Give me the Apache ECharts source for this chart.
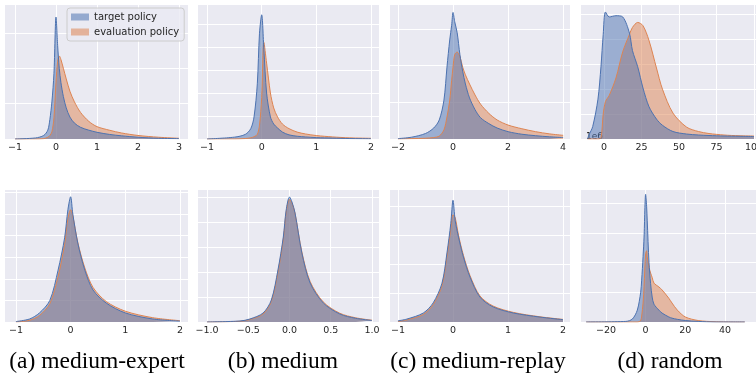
<!DOCTYPE html>
<html>
<head>
<meta charset="utf-8">
<script src="https://cdn.jsdelivr.net/npm/echarts@6/dist/echarts.min.js"></script>
<style>
html, body { margin: 0; padding: 0; background: #fff; overflow: hidden; }
#main { width: 770px; height: 378px; }
</style>
</head>
<body>
<div id="main"></div>
<script>
// densities, y in units of the (unlabelled) grid lines
const xsA = [-1, -0.5, -0.3, -0.2, -0.15, -0.1, -0.05, 0, 0.04, 0.08, 0.12, 0.18, 0.25, 0.34, 0.45, 0.6, 0.8, 1.0, 1.3, 1.6, 2.0, 2.5, 3.0];
const targetA = [0.0, 0.03, 0.1, 0.25, 0.55, 1.05, 1.85, 3.45, 2.65, 2.0, 1.6, 1.2, 0.88, 0.62, 0.45, 0.33, 0.25, 0.19, 0.13, 0.09, 0.05, 0.02, 0.01];
const evalA = [0.0, 0.0, 0.01, 0.05, 0.1, 0.2, 0.6, 1.6, 2.2, 2.35, 2.25, 2.0, 1.7, 1.35, 1.05, 0.75, 0.5, 0.35, 0.25, 0.17, 0.1, 0.05, 0.02];

const xsB = [-1, -0.5, -0.3, -0.2, -0.14, -0.08, -0.04, 0, 0.04, 0.09, 0.16, 0.22, 0.29, 0.38, 0.5, 0.65, 0.8, 1.0, 1.3, 1.6, 2.0];
const targetB = [0, 0.08, 0.2, 0.45, 0.96, 2.4, 4.6, 5.4, 3.9, 2.0, 0.96, 0.65, 0.48, 0.3, 0.18, 0.12, 0.09, 0.06, 0.04, 0.02, 0.01];
const evalB = [0, 0, 0.02, 0.05, 0.1, 0.2, 0.6, 1.8, 4.2, 3.3, 2.0, 1.35, 0.96, 0.65, 0.45, 0.3, 0.22, 0.15, 0.09, 0.05, 0.03];

const xsC = [-2, -1.5, -1.0, -0.7, -0.5, -0.33, -0.22, -0.12, -0.05, 0, 0.06, 0.15, 0.25, 0.35, 0.45, 0.6, 0.8, 1.0, 1.3, 1.6, 2.0, 2.5, 3.0, 3.5, 4.0];
const targetC = [0.01, 0.05, 0.15, 0.3, 0.52, 1.06, 1.96, 2.7, 3.1, 3.45, 3.2, 2.9, 2.3, 1.85, 1.5, 1.12, 0.8, 0.58, 0.42, 0.3, 0.2, 0.13, 0.09, 0.06, 0.04];
const evalC = [0, 0.01, 0.02, 0.04, 0.08, 0.25, 0.6, 1.06, 1.6, 1.96, 2.3, 2.37, 2.25, 1.96, 1.75, 1.5, 1.2, 0.95, 0.7, 0.52, 0.38, 0.28, 0.2, 0.14, 0.1];

const xsD = [-11, -10, -7.5, -4, -2, -0.5, 1, 3.5, 8, 12.5, 17, 19, 22.5, 26, 30, 35, 39, 46, 55, 63, 70, 80, 90, 100];
const targetD = [0, 0.16, 0.5, 1.6, 2.9, 4.2, 5.1, 4.9, 4.95, 4.9, 4.25, 3.55, 2.9, 2.05, 1.3, 0.8, 0.55, 0.3, 0.2, 0.16, 0.14, 0.12, 0.11, 0.1];
const evalD = [0, 0, 0, 0, 0.05, 1.0, 1.5, 1.75, 2.45, 3.5, 4.2, 4.48, 4.68, 4.55, 3.96, 2.85, 2.0, 1.04, 0.48, 0.3, 0.22, 0.16, 0.13, 0.12];

const xsA2 = [-1, -0.75, -0.57, -0.38, -0.23, -0.11, -0.05, 0, 0.04, 0.13, 0.26, 0.41, 0.65, 1.0, 1.5, 2.0];
const targetA2 = [0.02, 0.14, 0.42, 1.0, 2.4, 3.9, 5.2, 5.8, 5.0, 3.66, 2.4, 1.48, 0.88, 0.42, 0.14, 0.04];
const evalA2 = [0.0, 0.08, 0.3, 0.85, 2.1, 3.6, 4.8, 5.2, 4.9, 3.7, 2.5, 1.6, 0.95, 0.5, 0.2, 0.06];

const xsB2 = [-1, -0.6, -0.48, -0.32, -0.22, -0.14, -0.075, -0.04, 0, 0.03, 0.067, 0.15, 0.25, 0.41, 0.61, 0.8, 1.0];
const targetB2 = [0, 0.04, 0.12, 0.36, 0.88, 2.08, 3.4, 4.48, 5.0, 4.8, 4.36, 2.76, 1.56, 0.76, 0.32, 0.15, 0.06];
const evalB2 = [0, 0.03, 0.1, 0.32, 0.82, 1.98, 3.3, 4.4, 4.9, 4.75, 4.35, 2.8, 1.62, 0.8, 0.35, 0.17, 0.07];

const xsC2 = [-1, -0.84, -0.54, -0.36, -0.2, -0.11, -0.04, 0, 0.04, 0.1, 0.19, 0.31, 0.49, 0.73, 1.1, 1.58, 2.0];
const targetC2 = [0.04, 0.1, 0.31, 0.66, 1.34, 2.38, 3.4, 4.2, 3.5, 2.93, 2.24, 1.55, 0.86, 0.52, 0.31, 0.17, 0.08];
const evalC2 = [0.02, 0.07, 0.26, 0.6, 1.25, 2.25, 3.2, 3.7, 3.6, 3.0, 2.3, 1.6, 0.9, 0.55, 0.33, 0.18, 0.09];

const xsD2 = [-30, -10, -6.7, -4.2, -2.5, -2, -1.3, -0.8, 0, 0.5, 0.8, 1.7, 2.5, 3.3, 4.2, 6.7, 8.3, 11.7, 13.3, 16, 20, 26.5, 35, 50];
const targetD2 = [0, 0.02, 0.1, 0.4, 1.0, 1.41, 2.2, 2.86, 4.3, 3.9, 3.43, 2.0, 1.3, 0.84, 0.6, 0.4, 0.3, 0.17, 0.13, 0.09, 0.05, 0.02, 0, 0];
const evalD2 = [0, 0, 0, 0, 0.05, 0.2, 0.64, 1.2, 2.3, 2.4, 2.2, 1.85, 1.65, 1.5, 1.31, 1.18, 1.08, 0.8, 0.64, 0.4, 0.17, 0.05, 0.01, 0];

// tick labels per panel
const ticksA = [-1, 0, 1, 2, 3];
const ticksB = [-1, 0, 1, 2];
const ticksC = [-2, 0, 2, 4];
const ticksD = [0, 25, 50, 75, 100];
const ticksA2 = [-1, 0, 1, 2];
const ticksB2 = [-1, -0.5, 0, 0.5, 1];
const ticksC2 = [-1, 0, 1, 2];
const ticksD2 = [-20, 0, 20, 40];

const seriesNames = ['target policy', 'evaluation policy'];
const captions = ['(a) medium-expert', '(b) medium', '(c) medium-replay', '(d) random'];

const BLUE = '#4C72B0';
const ORANGE = '#DD8452';

// layout: grid box, x range, y range (grid-line units)
const panels = [
	{ xs: xsA, t: targetA, e: evalA, ticks: ticksA, box: [5, 4, 183, 135], xr: [-1.244, 3.22], ymax: 3.82 },
	{ xs: xsB, t: targetB, e: evalB, ticks: ticksB, box: [198, 4, 181, 135], xr: [-1.165, 2.146], ymax: 5.87 },
	{ xs: xsC, t: targetC, e: evalC, ticks: ticksC, box: [390, 4, 180, 135], xr: [-2.29, 4.25], ymax: 3.68 },
	{ xs: xsD, t: targetD, e: evalD, ticks: ticksD, box: [581, 4, 182, 135], xr: [-15.3, 106], ymax: 5.42 },
	{ xs: xsA2, t: targetA2, e: evalA2, ticks: ticksA2, box: [5, 189, 183, 133], xr: [-1.2, 2.146], ymax: 6.16 },
	{ xs: xsB2, t: targetB2, e: evalB2, ticks: ticksB2, box: [198, 189, 181, 133], xr: [-1.109, 1.085], ymax: 5.32, dec: 1 },
	{ xs: xsC2, t: targetC2, e: evalC2, ticks: ticksC2, box: [390, 189, 180, 133], xr: [-1.145, 2.127], ymax: 4.59 },
	{ xs: xsD2, t: targetD2, e: evalD2, ticks: ticksD2, box: [581, 189, 182, 133], xr: [-32.6, 59.2], ymax: 4.48 }
];

const fmt = (v, dec) => {
	const s = dec ? Math.abs(v).toFixed(dec) : String(Math.abs(v));
	return v < 0 ? '\u2212' + s : s;
};

const grid = [], xAxis = [], yAxis = [], series = [];

panels.forEach((p, i) => {
	grid.push({
		left: p.box[0], top: p.box[1], width: p.box[2], height: p.box[3],
		show: true, backgroundColor: '#EAEAF2', borderWidth: 0
	});
	xAxis.push({
		type: 'value', gridIndex: i, min: p.xr[0], max: p.xr[1],
		axisLine: { show: false },
		axisTick: { show: false, customValues: p.ticks },
		axisLabel: {
			customValues: p.ticks, margin: 4,
			fontFamily: 'DejaVu Sans', fontSize: 9.5, color: '#262626',
			formatter: (v) => fmt(v, p.dec)
		},
		splitLine: { show: true, lineStyle: { color: '#fff', width: 1 } }
	});
	yAxis.push({
		type: 'value', gridIndex: i, min: 0, max: p.ymax, interval: 1,
		axisLine: { show: false }, axisTick: { show: false }, axisLabel: { show: false },
		splitLine: { show: true, lineStyle: { color: '#fff', width: 1 } }
	});
	// orange first so the blue fill sits on top, as in the picture
	[[seriesNames[1], p.e, ORANGE, 'rgba(221,132,82,0.5)'], [seriesNames[0], p.t, BLUE, 'rgba(76,114,176,0.5)']].forEach(([name, ys, c, fill]) => {
		series.push({
			name: name, type: 'line', xAxisIndex: i, yAxisIndex: i,
			data: p.xs.map((x, k) => [x, ys[k]]),
			smooth: 0.3, showSymbol: false, silent: true,
			lineStyle: { color: c, width: 1 },
			itemStyle: { color: c },
			areaStyle: { color: fill, opacity: 1 }
		});
	});
});

const captionCenters = [97, 283, 478, 670];
const graphic = captions.map((t, i) => ({
	type: 'text', x: captionCenters[i], y: 362,
	style: {
		text: t, font: '23.5px "Liberation Serif", "Times New Roman", serif', fill: '#000',
		textAlign: 'center', textVerticalAlign: 'middle'
	}
}));
graphic.push({
	type: 'text', x: 586, y: 132,
	style: { text: '1e6', font: '9px "DejaVu Sans"', fill: '#262626' }
});

const myChart = echarts.init(document.getElementById('main'));
myChart.setOption({
	animation: false,
	grid: grid,
	xAxis: xAxis,
	yAxis: yAxis,
	legend: {
		orient: 'vertical', left: 67, top: 8,
		padding: [4, 5, 4, 4], itemGap: 5,
		itemWidth: 18, itemHeight: 7, icon: 'rect',
		backgroundColor: 'rgba(234,234,242,0.8)', borderColor: '#CCCCCC', borderWidth: 1, borderRadius: 3,
		textStyle: { fontFamily: 'DejaVu Sans', fontSize: 10, color: '#262626' },
		data: [
			{ name: seriesNames[0], itemStyle: { color: 'rgba(76,114,176,0.55)' } },
			{ name: seriesNames[1], itemStyle: { color: 'rgba(221,132,82,0.55)' } }
		]
	},
	graphic: graphic,
	series: series
});
</script>
</body>
</html>
